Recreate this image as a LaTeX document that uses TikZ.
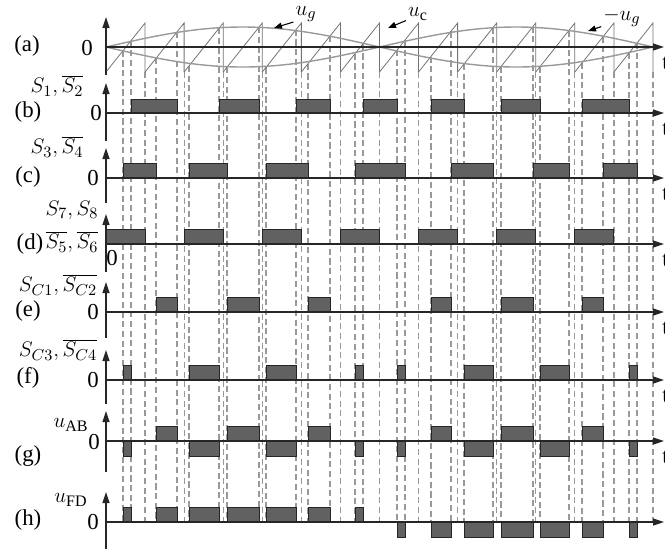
\documentclass[tikz,border=0pt]{standalone}
\usepackage{fontspec}
\setmainfont{Liberation Serif}
\usetikzlibrary{arrows.meta}

\begin{document}
\begin{tikzpicture}[x=0.02cm, y=-0.02cm,
    axis/.style={line width=0.7pt, black!85, -{Triangle[length=2.2mm,width=1.4mm]}},
    saw/.style={black!55, line width=0.45pt},
    wave/.style={black!40, line width=0.8pt},
    guide/.style={black!40, line width=0.7pt, dash pattern=on 3.5pt off 2pt},
    pulse/.style={draw=black!85, fill=black!62, line width=0.5pt},
    lbl/.style={font=\fontsize{13}{15}\selectfont, inner sep=0pt},
    pointer/.style={line width=0.6pt, -{Triangle[length=1.6mm,width=1.2mm]}}]
\useasboundingbox (0,0) rectangle (665,549);

% guide lines at the crossings and at the carrier resets
\foreach \x/\y in {123/50.7, 131/40.6, 156/58.3, 177/32.0, 189/65.9, 219/28.3,
    227/67.2, 259/27.1, 266/67.4, 296/29.7, 308/63.7, 330/36.1, 355/53.7,
    363/43.7, 397/50.1, 405/40.0, 431/56.5, 451/31.4, 464/64.0, 493/27.6,
    501/66.6, 533/26.5, 540/66.7, 569/30.4, 582/63.0, 603/36.6, 629/53.1,
    637/43.0}
  \draw[guide] (\x,\y) -- (\x,522);
\foreach \k in {1,...,14}
  \draw[guide] ({106+39.07*\k},72) -- ({106+39.07*\k},522);

% (a) carrier and modulating waves
\foreach \k in {0,...,13}
  \draw[saw] ({106+39.07*\k},72) -- ({106+39.07*(\k+1)},23) -- ({106+39.07*(\k+1)},72);
\draw[wave] plot[domain=106:653, samples=120, smooth] (\x,{47-20*sin(((\x-106)/547)*360)});
\draw[wave] plot[domain=106:653, samples=120, smooth] (\x,{47+20*sin(((\x-106)/547)*360)});

% switching pulses
\foreach \a/\b in {131/177, 219/259, 296/330, 363/397, 431/464, 501/540, 582/629}
  \draw[pulse] (\a,113) rectangle (\b,99);
\foreach \a/\b in {123/156, 189/227, 266/308, 355/405, 451/493, 533/569, 603/637}
  \draw[pulse] (\a,178) rectangle (\b,163);
\foreach \a/\b in {106/145.1, 184.1/223.2, 262.3/301.4, 340.4/379.5, 418.6/457.6,
    496.7/535.8, 574.8/613.9}
  \draw[pulse] (\a,244) rectangle (\b,229);
\foreach \a/\b in {156/177, 227/259, 308/330, 431/451, 501/533, 582/603}
  \draw[pulse] (\a,312) rectangle (\b,297);
\foreach \a/\b in {123/131, 189/219, 266/296, 355/363, 397/405, 464/493, 540/569, 629/637}
  \draw[pulse] (\a,380) rectangle (\b,365);
% u_AB
\foreach \a/\b in {156/177, 227/259, 308/330, 431/451, 501/533, 582/603}
  \draw[pulse] (\a,441) rectangle (\b,426);
\foreach \a/\b in {123/131, 189/219, 266/296, 355/363, 397/405, 464/493, 540/569, 629/637}
  \draw[pulse] (\a,441) rectangle (\b,456);
% u_FD
\foreach \a/\b in {123/131, 156/177, 189/219, 227/259, 266/296, 308/330, 355/363}
  \draw[pulse] (\a,522) rectangle (\b,507);
\foreach \a/\b in {397/405, 431/451, 464/493, 501/533, 540/569, 582/603, 629/637}
  \draw[pulse] (\a,522) rectangle (\b,537);

% axes
\foreach \r/\y/\e in {a/47/75, b/113/141, c/178/203, d/244/272, e/312/338,
    f/380/404, g/441/472, h/522/549} {
  \draw[axis] (106,\y) -- (664,\y);
  \draw[axis] (106,\e) -- (106,\y-30);
}
\foreach \r/\y in {a/47, b/113, c/178, d/244, e/312, f/380, g/441}
  \node[lbl, anchor=west] (t\r) at (662,\y+16) {t};

% row labels
\node[lbl] (la) at (27,46) {(a)};
\node[lbl] (lb) at (28,112) {(b)};
\node[lbl] (lc) at (28,177) {(c)};
\node[lbl] (ld) at (30,244) {(d)};
\node[lbl] (le) at (28,311) {(e)};
\node[lbl] (lf) at (28,378) {(f)};
\node[lbl] (lg) at (28,456) {(g)};
\node[lbl] (lh) at (28,520) {(h)};

\node[lbl] (za) at (87,48) {0};
\node[lbl] (zb) at (96,113) {0};
\node[lbl] (zc) at (93,178) {0};
\node[lbl] (zd) at (112,258) {0};
\node[lbl] (ze) at (93,312) {0};
\node[lbl] (zf) at (93,380) {0};
\node[lbl] (zg) at (94,442) {0};
\node[lbl] (zh) at (93,522) {0};

\node[lbl] (sb) at (57,86) {$S_1,\overline{S_2}$};
\node[lbl] (sc) at (57,147) {$S_3,\overline{S_4}$};
\node[lbl] (sd) at (72,210) {$S_7,S_8$};
\node[lbl] (sd2) at (72,242) {$\overline{S_5},\overline{S_6}$};
\node[lbl] (se) at (58,285) {$S_{C1},\overline{S_{C2}}$};
\node[lbl] (sf) at (58,350) {$S_{C3},\overline{S_{C4}}$};
\node[lbl] (sg) at (71,425) {$u_{\mathrm{AB}}$};
\node[lbl] (sh) at (71,500) {$u_{\mathrm{FD}}$};

% wave labels in (a)
\node[lbl] (lug) at (306,14) {$u_g$};
\node[lbl] (luc) at (418,14) {$u_{\mathrm{c}}$};
\node[lbl] (lmug) at (622,17) {$-u_g$};
\coordinate (tug) at (274,28);
\coordinate (tuc) at (388,28);
\coordinate (tmug) at (588,31);
\draw[pointer] ([xshift=-1pt]lug.south west) -- (tug);
\draw[pointer] ([xshift=-1pt]luc.south west) -- (tuc);
\draw[pointer] ([xshift=-1pt]lmug.south west) -- (tmug);

\end{tikzpicture}
\end{document}
